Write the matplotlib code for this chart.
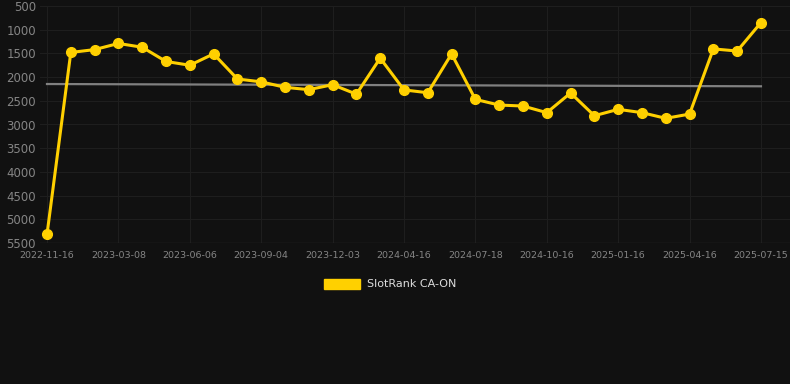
import matplotlib.pyplot as plt
from matplotlib.patches import Patch

# monthly ranks (lower = better), tick labels every 3rd point
ranks = [5320, 1480, 1420, 1290, 1370, 1670, 1750, 1510, 2040, 2100,
         2215, 2265, 2160, 2360, 1600, 2270, 2330, 1510, 2470, 2590,
         2610, 2750, 2335, 2815, 2680, 2750, 2870, 2780, 1405, 1450, 850]
tick_labels = ['2022-11-16', '2023-03-08', '2023-06-06', '2023-09-04', '2023-12-03',
               '2024-04-16', '2024-07-18', '2024-10-16', '2025-01-16', '2025-04-16',
               '2025-07-15']
trend = [2146, 2194]

bg = '#111111'
fig = plt.figure(figsize=(7.9, 3.84), dpi=100, facecolor=bg)
ax = fig.add_axes([40/790, 1-243/384, 750/790, 237/384], facecolor=bg)

x = list(range(len(ranks)))
ax.plot([x[0], x[-1]], trend, color='#808080', lw=1.6, zorder=2)
ax.plot(x, ranks, color='#FFD000', lw=2.2, marker='o', ms=7, zorder=3)

ax.set_ylim(5500, 500)
ax.set_xlim(-0.294, 31.22)
ax.set_yticks(range(500, 5501, 500))
ax.set_xticks(x[::3])
ax.set_xticklabels(tick_labels)
ax.grid(True, color='#1e1e1e', lw=0.8)
for s in ax.spines.values():
    s.set_visible(False)
ax.axhline(5500, color='#2a2a2a', lw=1)
ax.tick_params(axis='y', colors='#858585', labelsize=8.5, length=0, pad=3)
ax.tick_params(axis='x', colors='#858585', labelsize=6.8, length=0, pad=6)

fig.legend(handles=[Patch(color='#FFD000', label='SlotRank CA-ON')],
           loc='center', bbox_to_anchor=(390/790, 1-284/384), frameon=False,
           handlelength=3.3, handleheight=1.0, fontsize=8, labelcolor='#dddddd',
           handletextpad=0.6)

fig.savefig('out.png', dpi=100, facecolor=bg)
